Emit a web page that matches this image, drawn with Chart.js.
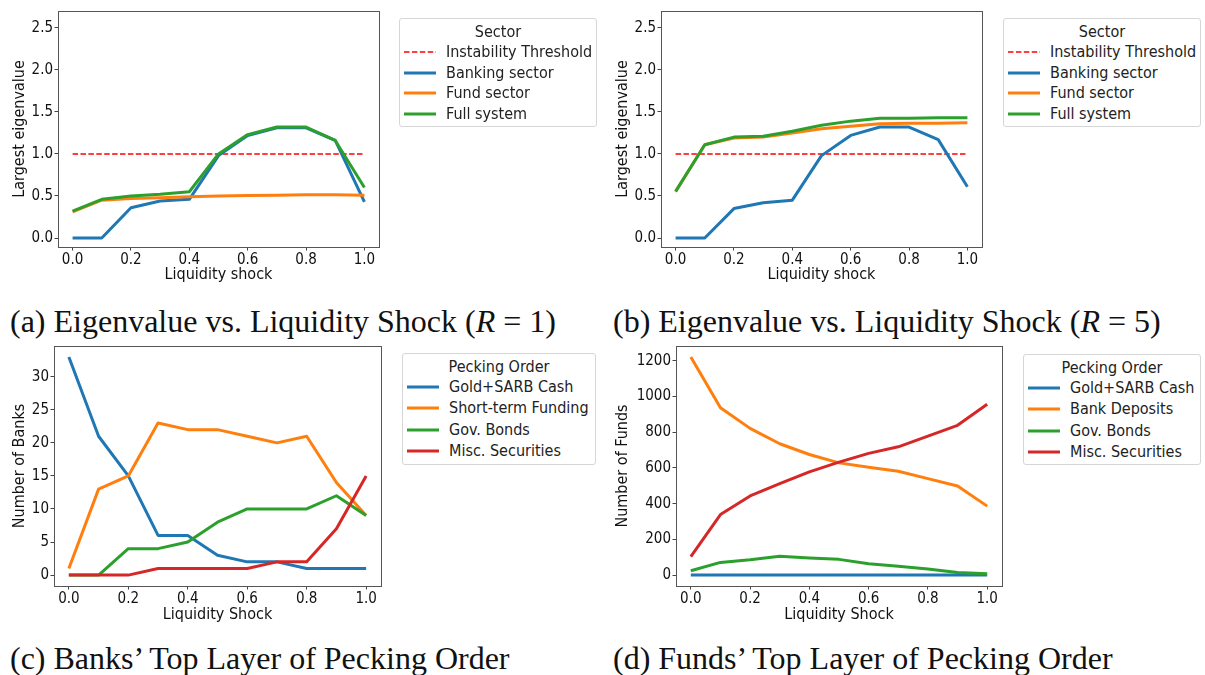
<!DOCTYPE html>
<html>
<head>
<meta charset="utf-8">
<script src="https://cdn.jsdelivr.net/npm/chart.js@4/dist/chart.umd.min.js"></script>
<style>
  body { margin: 0; background: #fff; width: 1205px; height: 675px; position: relative; overflow: hidden;
         font-family: 'DejaVu Sans Condensed', 'DejaVu Sans', sans-serif; }
  .panel { position: absolute; }
  .legend { position: absolute; border: 1px solid #d6d6d6; border-radius: 3px; background: #fff; box-sizing: border-box; }
  .legend .ttl, .legend .item { position: absolute; font-size: 16px; color: #222; white-space: nowrap; line-height: 1; transform: translateY(-50%); }
  .legend svg { position: absolute; }
  .caption { position: absolute; font-family: 'Liberation Serif', serif; font-size: 32px; color: #111; white-space: nowrap; line-height: 1; transform: translateY(-50%); }
</style>
</head>
<body>
<canvas id="chart-a" class="panel"></canvas>
<canvas id="chart-b" class="panel"></canvas>
<canvas id="chart-c" class="panel"></canvas>
<canvas id="chart-d" class="panel"></canvas>
<script>
// x values shared by every panel
const shocks = [0.0, 0.1, 0.2, 0.3, 0.4, 0.5, 0.6, 0.7, 0.8, 0.9, 1.0]
const xTicks = [0.0, 0.2, 0.4, 0.6, 0.8, 1.0]

// (a) / (b) largest eigenvalue
const eigTicks = [0.0, 0.5, 1.0, 1.5, 2.0, 2.5]
const threshold = 1.0
const sectorNames = ["Instability Threshold", "Banking sector", "Fund sector", "Full system"]
const eigR1Banking = [0.0, 0.0, 0.36, 0.44, 0.46, 0.98, 1.22, 1.31, 1.31, 1.16, 0.43]
const eigR1Fund    = [0.31, 0.45, 0.47, 0.48, 0.49, 0.50, 0.505, 0.51, 0.515, 0.515, 0.51]
const eigR1Full    = [0.32, 0.46, 0.50, 0.52, 0.55, 1.0, 1.23, 1.32, 1.32, 1.16, 0.60]
const eigR5Banking = [0.0, 0.0, 0.35, 0.42, 0.45, 0.98, 1.22, 1.32, 1.32, 1.17, 0.61]
const eigR5Fund    = [0.55, 1.11, 1.19, 1.20, 1.25, 1.30, 1.33, 1.36, 1.365, 1.365, 1.37]
const eigR5Full    = [0.555, 1.11, 1.20, 1.21, 1.27, 1.34, 1.39, 1.425, 1.425, 1.43, 1.43]

// (c) banks' top layer of pecking order
const bankTicks = [0, 5, 10, 15, 20, 25, 30]
const bankOrderNames = ["Gold+SARB Cash", "Short-term Funding", "Gov. Bonds", "Misc. Securities"]
const banksGold    = [33, 21, 15, 6, 6, 3, 2, 2, 1, 1, 1]
const banksFunding = [1, 13, 15, 23, 22, 22, 21, 20, 21, 14, 9]
const banksBonds   = [0, 0, 4, 4, 5, 8, 10, 10, 10, 12, 9]
const banksMisc    = [0, 0, 0, 1, 1, 1, 1, 2, 2, 7, 15]

// (d) funds' top layer of pecking order
const fundTicks = [0, 200, 400, 600, 800, 1000, 1200]
const fundOrderNames = ["Gold+SARB Cash", "Bank Deposits", "Gov. Bonds", "Misc. Securities"]
const fundsGold     = [0, 0, 0, 0, 0, 0, 0, 0, 0, 0, 0]
const fundsDeposits = [1221, 937, 821, 735, 675, 628, 604, 581, 540, 499, 386]
const fundsBonds    = [24, 71, 86, 105, 96, 88, 64, 49, 34, 15, 7]
const fundsMisc     = [103, 339, 443, 512, 578, 632, 681, 718, 778, 838, 956]

const captions = [
  ["(a) Eigenvalue vs. Liquidity Shock (<i>R</i> = 1)", 10, 321],
  ["(b) Eigenvalue vs. Liquidity Shock (<i>R</i> = 5)", 613, 321],
  ["(c) Banks\u2019 Top Layer of Pecking Order", 10, 658],
  ["(d) Funds\u2019 Top Layer of Pecking Order", 613, 658],
]

const colors = ["#1f77b4", "#ff7f0e", "#2ca02c", "#d62728"]
const thresholdColor = "#ff0000"
const dash = [5.5, 2.4]
const fontFamily = "'DejaVu Sans Condensed', 'DejaVu Sans', sans-serif"

Chart.defaults.font.family = fontFamily
Chart.defaults.color = "#111"

const points = (ys) => ys.map((y, i) => ({ x: shocks[i], y: y }))

// matplotlib-like box around the plot area
const framePlugin = {
  id: "frame",
  afterDraw(chart) {
    const a = chart.chartArea
    const ctx = chart.ctx
    ctx.save()
    ctx.strokeStyle = "#555"
    ctx.lineWidth = 1
    ctx.strokeRect(Math.round(a.left) + 0.5, Math.round(a.top) + 0.5,
      Math.round(a.right - a.left), Math.round(a.bottom - a.top))
    ctx.restore()
  },
}

function lineSet(label, ys, color, order) {
  return {
    label: label, data: points(ys), borderColor: color, backgroundColor: color,
    borderWidth: 3, pointRadius: 0, tension: 0, fill: false, order: order,
    borderJoinStyle: "round", borderCapStyle: "butt",
  }
}

function makeChart(id, geo, datasets, yMin, yMax, yTicks, yLabel, xLabel, yFmt) {
  const canvas = document.getElementById(id)
  canvas.width = geo.w
  canvas.height = geo.h
  canvas.style.left = geo.x + "px"
  canvas.style.top = geo.y + "px"
  canvas.style.width = geo.w + "px"
  canvas.style.height = geo.h + "px"
  new Chart(canvas, {
    type: "line",
    data: { datasets: datasets },
    plugins: [framePlugin],
    options: {
      responsive: false,
      animation: false,
      events: [],
      layout: { padding: geo.pad },
      plugins: { legend: { display: false }, tooltip: { enabled: false } },
      scales: {
        x: {
          type: "linear", min: -0.05, max: 1.05,
          border: { display: false },
          grid: { drawOnChartArea: false, tickLength: 3.5, tickColor: "#444" },
          ticks: { font: { size: 15, lineHeight: 1 }, padding: 2, color: "#111",
                   callback: (v) => v.toFixed(1) },
          afterBuildTicks: (s) => { s.ticks = xTicks.map((v) => ({ value: v })) },
          afterFit: (s) => { s.height = geo.xH; s.paddingLeft = 0; s.paddingRight = 0 },
          title: { display: true, text: xLabel, font: { size: 16, lineHeight: 1.2 }, padding: 0, color: "#111" },
        },
        y: {
          type: "linear", min: yMin, max: yMax,
          border: { display: false },
          grid: { drawOnChartArea: false, tickLength: 3.5, tickColor: "#444" },
          ticks: { font: { size: 15, lineHeight: 1.2 }, padding: 1.5, color: "#111", callback: yFmt },
          afterBuildTicks: (s) => { s.ticks = yTicks.map((v) => ({ value: v })) },
          afterFit: (s) => { s.width = geo.yW; s.paddingTop = 0; s.paddingBottom = 0 },
          title: { display: true, text: yLabel, font: { size: 16, lineHeight: 1.2 }, padding: 0, color: "#111" },
        },
      },
    },
  })
}

function eigDatasets(banking, fund, full) {
  return [
    { label: sectorNames[0], data: [{ x: shocks[0], y: threshold }, { x: shocks[shocks.length - 1], y: threshold }],
      borderColor: thresholdColor, borderWidth: 1.5, borderDash: dash, pointRadius: 0, order: 4 },
    lineSet(sectorNames[1], banking, colors[0], 3),
    lineSet(sectorNames[2], fund, colors[1], 2),
    lineSet(sectorNames[3], full, colors[2], 1),
  ]
}

function orderDatasets(names, series) {
  return series.map((ys, i) => lineSet(names[i], ys, colors[i], 4 - i))
}

const fmt1 = (v) => v.toFixed(1)
const fmt0 = (v) => String(v)

makeChart("chart-a", { x: 0, y: 0, w: 400, h: 295, yW: 48, xH: 37, pad: { left: 10, top: 11, right: 21, bottom: 11 } },
  eigDatasets(eigR1Banking, eigR1Fund, eigR1Full), -0.107, 2.70, eigTicks, "Largest eigenvalue", "Liquidity shock", fmt1)
makeChart("chart-b", { x: 600, y: 0, w: 400, h: 295, yW: 48, xH: 37, pad: { left: 13, top: 11, right: 18, bottom: 11 } },
  eigDatasets(eigR5Banking, eigR5Fund, eigR5Full), -0.107, 2.70, eigTicks, "Largest eigenvalue", "Liquidity shock", fmt1)
makeChart("chart-c", { x: 0, y: 340, w: 400, h: 295, yW: 44, xH: 38, pad: { left: 10, top: 6, right: 19, bottom: 11 } },
  orderDatasets(bankOrderNames, [banksGold, banksFunding, banksBonds, banksMisc]), -1.65, 34.65, bankTicks,
  "Number of Banks", "Liquidity Shock", fmt0)
makeChart("chart-d", { x: 600, y: 340, w: 410, h: 295, yW: 63, xH: 38, pad: { left: 13, top: 6, right: 8, bottom: 11 } },
  orderDatasets(fundOrderNames, [fundsGold, fundsDeposits, fundsBonds, fundsMisc]), -61, 1282, fundTicks,
  "Number of Funds", "Liquidity Shock", fmt0)

// legends as html boxes (matplotlib style)
function makeLegend(box, title, names, swatchColors, dashedFirst) {
  const div = document.createElement("div")
  div.className = "legend"
  div.style.left = box.x + "px"
  div.style.top = box.y + "px"
  div.style.width = box.w + "px"
  div.style.height = box.h + "px"
  const t = document.createElement("div")
  t.className = "ttl"
  t.textContent = title
  t.style.top = "12.5px"
  t.style.left = "0"
  t.style.width = "100%"
  t.style.textAlign = "center"
  div.appendChild(t)
  names.forEach((name, i) => {
    const cy = 34 + i * box.step
    const svg = document.createElementNS("http://www.w3.org/2000/svg", "svg")
    svg.setAttribute("width", "34")
    svg.setAttribute("height", "6")
    svg.style.left = "3px"
    svg.style.top = (cy - 3 - 1) + "px"
    const ln = document.createElementNS("http://www.w3.org/2000/svg", "line")
    ln.setAttribute("x1", "1"); ln.setAttribute("x2", "33")
    ln.setAttribute("y1", "3"); ln.setAttribute("y2", "3")
    ln.setAttribute("stroke", swatchColors[i])
    if (dashedFirst && i === 0) {
      ln.setAttribute("stroke-width", "1.5")
      ln.setAttribute("stroke-dasharray", dash.join(" "))
    } else {
      ln.setAttribute("stroke-width", "3")
    }
    svg.appendChild(ln)
    div.appendChild(svg)
    const it = document.createElement("div")
    it.className = "item"
    it.textContent = name
    it.style.left = "46px"
    it.style.top = (cy - 1) + "px"
    div.appendChild(it)
  })
  document.body.appendChild(div)
}

const sectorColors = [thresholdColor, colors[0], colors[1], colors[2]]
makeLegend({ x: 399, y: 18, w: 198, h: 109, step: 20.7 }, "Sector", sectorNames, sectorColors, true)
makeLegend({ x: 1003, y: 18, w: 198, h: 109, step: 20.7 }, "Sector", sectorNames, sectorColors, true)
makeLegend({ x: 402, y: 353, w: 194, h: 112, step: 21.3 }, "Pecking Order", bankOrderNames, colors, false)
makeLegend({ x: 1023, y: 354, w: 178, h: 111, step: 21.3 }, "Pecking Order", fundOrderNames, colors, false)

captions.forEach(([html, x, y]) => {
  const c = document.createElement("div")
  c.className = "caption"
  c.innerHTML = html
  c.style.left = x + "px"
  c.style.top = y + "px"
  document.body.appendChild(c)
})
</script>
</body>
</html>
